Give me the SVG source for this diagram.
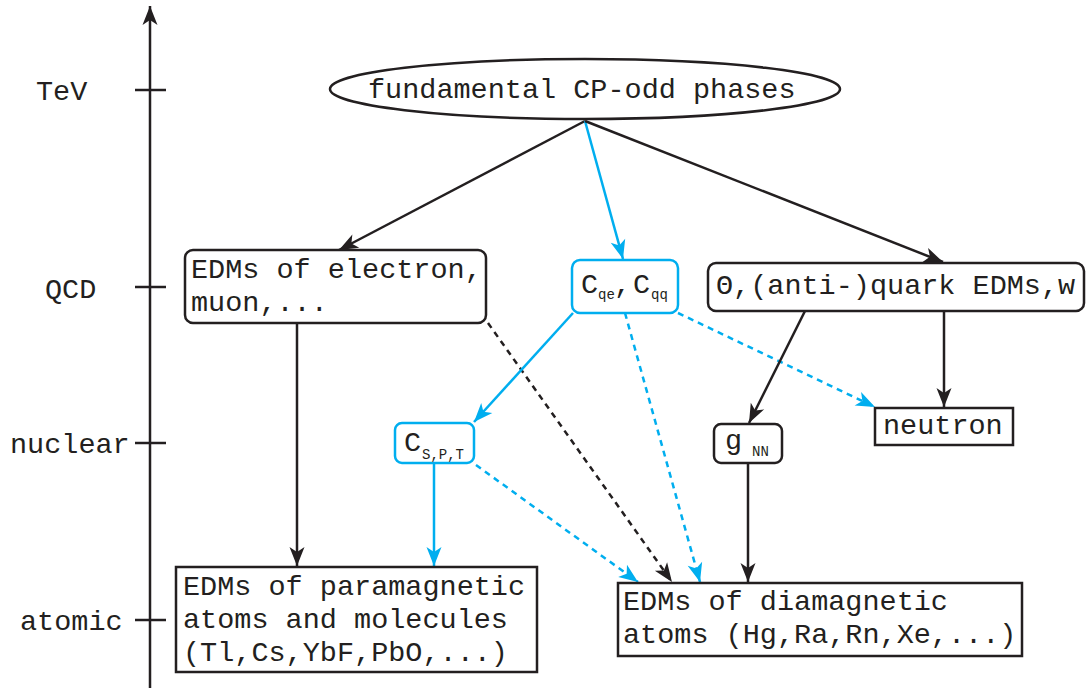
<svg xmlns="http://www.w3.org/2000/svg" width="1086" height="688" viewBox="0 0 1086 688">
<style>
text{font-family:"Liberation Mono","DejaVu Sans Mono",monospace;font-size:28.5px;fill:#231f20}
.sub{font-size:14px}
.box{fill:#fff;stroke:#231f20;stroke-width:2.5}
.bbox{fill:#fff;stroke:#00aeef;stroke-width:2.5}
.k{stroke:#231f20;stroke-width:2.5;fill:none}
.b{stroke:#00aeef;stroke-width:2.5;fill:none}
.d{stroke-dasharray:6 5}
</style>
<defs>
<marker id="ak" markerUnits="userSpaceOnUse" viewBox="-20 -9 22 18" refX="0" refY="0" markerWidth="22" markerHeight="18" orient="auto"><path d="M0,0 L-19,-7.5 L-14,0 L-19,7.5 Z" fill="#231f20"/></marker>
<marker id="ab" markerUnits="userSpaceOnUse" viewBox="-20 -9 22 18" refX="0" refY="0" markerWidth="22" markerHeight="18" orient="auto"><path d="M0,0 L-19,-7.5 L-14,0 L-19,7.5 Z" fill="#00aeef"/></marker>
</defs>
<g id="axis">
<line class="k" x1="150" y1="688" x2="150" y2="6" marker-end="url(#ak)"/>
<line class="k" x1="135" y1="90" x2="166" y2="90"/>
<line class="k" x1="135" y1="287" x2="166" y2="287"/>
<line class="k" x1="135" y1="443" x2="166" y2="443"/>
<line class="k" x1="135" y1="620" x2="166" y2="620"/>
<text x="36" y="100">TeV</text>
<text x="45" y="298">QCD</text>
<text x="10" y="453">nuclear</text>
<text x="20" y="630">atomic</text>
</g>
<g id="connectors">
<line class="k" x1="585" y1="121" x2="339" y2="250" marker-end="url(#ak)"/>
<line class="b" x1="585" y1="121" x2="623" y2="259" marker-end="url(#ab)"/>
<line class="k" x1="585" y1="121" x2="943" y2="262" marker-end="url(#ak)"/>
<line class="k" x1="297" y1="324" x2="297" y2="566" marker-end="url(#ak)"/>
<line class="k d" x1="488" y1="323" x2="672" y2="582" marker-end="url(#ak)"/>
<line class="b" x1="573" y1="313" x2="474" y2="422" marker-end="url(#ab)"/>
<line class="b d" x1="625" y1="313" x2="700" y2="582" marker-end="url(#ab)"/>
<line class="b d" x1="678" y1="313" x2="875" y2="407" marker-end="url(#ab)"/>
<line class="k" x1="805" y1="311" x2="749" y2="423" marker-end="url(#ak)"/>
<line class="k" x1="944" y1="311" x2="944" y2="407" marker-end="url(#ak)"/>
<line class="b" x1="434" y1="464" x2="434" y2="566" marker-end="url(#ab)"/>
<line class="b d" x1="476" y1="465" x2="638" y2="582" marker-end="url(#ab)"/>
<line class="k" x1="748" y1="463" x2="748" y2="582" marker-end="url(#ak)"/>
</g>
<g id="fundamental">
<ellipse class="box" cx="585" cy="89" rx="255" ry="30"/>
<text x="368" y="98">fundamental CP-odd phases</text>
</g>
<g id="electron">
<rect class="box" x="185" y="250" width="301" height="73" rx="8"/>
<text x="191" y="278">EDMs of electron,</text>
<text x="191" y="311">muon,...</text>
</g>
<g id="cqe">
<rect class="bbox" x="572" y="260" width="106" height="53" rx="8"/>
<text x="581" y="293">C</text>
<text class="sub" x="598" y="299">qe</text>
<text x="614" y="293">,</text>
<text x="633" y="293">C</text>
<text class="sub" x="651" y="299">qq</text>
</g>
<g id="theta">
<rect class="box" x="708" y="263" width="376" height="48" rx="8"/>
<text x="716" y="294">Θ,(anti-)quark EDMs,w</text>
</g>
<g id="cspt">
<rect class="bbox" x="395" y="423" width="79" height="40" rx="7"/>
<text x="404" y="451">C</text>
<text class="sub" x="422" y="459">S,P,T</text>
</g>
<g id="gnn">
<rect class="box" x="714" y="424" width="68" height="39" rx="7"/>
<text x="725" y="449">g</text>
<text class="sub" x="752" y="456">NN</text>
</g>
<g id="neutron">
<rect class="box" x="875" y="408" width="138" height="37"/>
<text x="883" y="434">neutron</text>
</g>
<g id="paramagnetic">
<rect class="box" x="176" y="567" width="361" height="105"/>
<text x="183" y="595">EDMs of paramagnetic</text>
<text x="183" y="628">atoms and molecules</text>
<text x="183" y="661">(Tl,Cs,YbF,PbO,...)</text>
</g>
<g id="diamagnetic">
<rect class="box" x="618" y="583" width="404" height="73"/>
<text x="623" y="610">EDMs of diamagnetic</text>
<text x="623" y="643">atoms (Hg,Ra,Rn,Xe,...)</text>
</g>
</svg>
